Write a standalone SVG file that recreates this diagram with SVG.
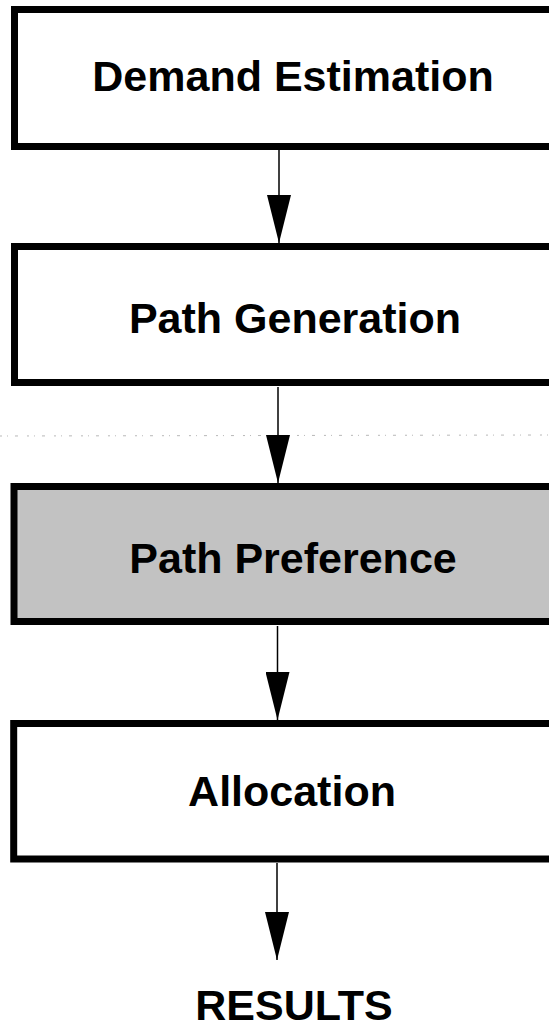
<svg xmlns="http://www.w3.org/2000/svg" width="549" height="1027" viewBox="0 0 549 1027">
  <style>
    .box { fill: #ffffff; stroke: #000000; stroke-width: 7; }
    .shaded { fill: #c2c2c2; }
    .label { font-family: "Liberation Sans", Arial, Helvetica, sans-serif; font-weight: bold; font-size: 43px; fill: #000000; text-anchor: middle; }
    .conn { stroke: #000000; stroke-width: 1.5; fill: none; marker-end: url(#head); }
    .scan { stroke: #8a8a8a; stroke-width: 1; stroke-dasharray: 2 5 1 7 3 9; opacity: 0.6; }
  </style>
  <defs>
    <marker id="head" markerUnits="userSpaceOnUse" markerWidth="48" markerHeight="24" refX="48" refY="12" orient="auto">
      <path d="M0,0 L48,12 L0,24 Z" fill="#000000"/>
    </marker>
  </defs>
  <rect x="0" y="0" width="549" height="1027" fill="#ffffff"/>

  <line class="scan" x1="0" y1="436" x2="549" y2="435"/>

  <g id="connectors">
    <line class="conn" x1="279" y1="150" x2="279" y2="243"/>
    <line class="conn" x1="278" y1="387" x2="278" y2="483"/>
    <line class="conn" x1="277.5" y1="626" x2="277.5" y2="720"/>
    <line class="conn" x1="277" y1="863" x2="277" y2="960"/>
  </g>

  <g id="node-demand-estimation">
    <rect class="box" x="14.5" y="9.5" width="560" height="137"/>
    <text class="label" x="293" y="91">Demand Estimation</text>
  </g>

  <g id="node-path-generation">
    <rect class="box" x="14.5" y="246.5" width="560" height="136"/>
    <text class="label" x="295" y="333">Path Generation</text>
  </g>

  <g id="node-path-preference">
    <rect class="box shaded" x="14" y="486.5" width="560" height="135"/>
    <text class="label" x="293" y="573">Path Preference</text>
  </g>

  <g id="node-allocation">
    <rect class="box" x="13.7" y="723.5" width="560" height="135.5"/>
    <text class="label" x="292" y="806">Allocation</text>
  </g>

  <g id="node-results">
    <text class="label" x="294" y="1020">RESULTS</text>
  </g>
</svg>
